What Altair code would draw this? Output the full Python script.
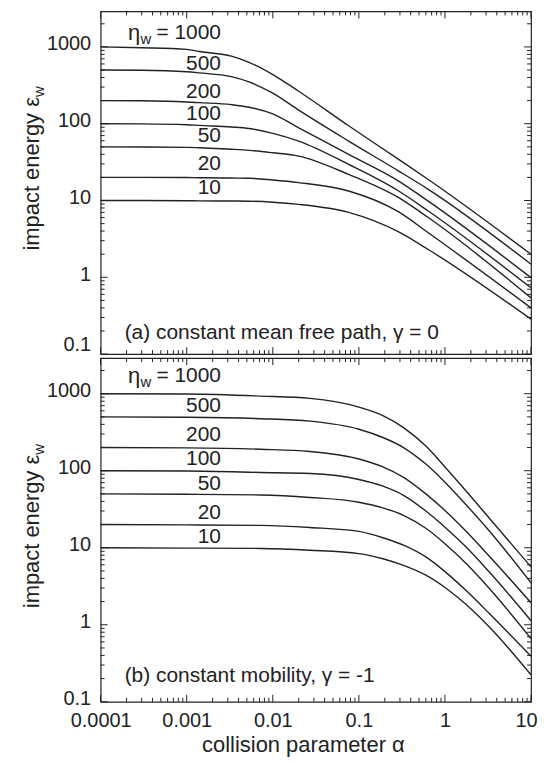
import altair as alt
import pandas as pd

# ---------------- data ----------------
eta = [1000, 500, 200, 100, 50, 20, 10]

# (a) constant mean free path, gamma = 0
x_a = [0.0001, 0.0003, 0.001, 0.0014, 0.0033, 0.0053, 0.01, 0.02, 0.076, 0.29, 0.64, 10]
a_1000 = [1000, 977, 930, 871, 759, 631, 437, 265, 94, 34.3, 18.8, 2.0]
a_500 = [500, 497, 475, 459, 410, 350, 250, 150, 59.4, 24.2, 14.0, 1.48]
a_200 = [200, 199, 192, 188, 177, 164, 134, 88.5, 39.9, 17.9, 9.8, 0.99]
a_100 = [100, 99.5, 97, 95, 90.6, 86.7, 75, 59.4, 29.6, 13.3, 7.3, 0.73]
a_50 = [50, 49.8, 49.2, 48.6, 46.5, 45, 41.8, 37.9, 21.9, 10.9, 6.0, 0.54]
a_20 = [20, 20, 19.9, 19.8, 19.6, 19.5, 18.5, 17.1, 13.3, 7.1, 3.8, 0.40]
a_10 = [10, 10, 9.95, 9.9, 9.85, 9.8, 9.5, 8.9, 7.0, 3.9, 2.3, 0.285]

# (b) constant mobility, gamma = -1
x_b = [0.0001, 0.001, 0.0072, 0.027, 0.1, 0.19, 0.33, 0.6, 1.0, 1.75, 3.3, 10]
b_1000 = [1000, 990, 931, 869, 670, 520, 363, 209, 112, 55, 24, 5.65]
b_500 = [500, 495, 474, 440, 346, 270, 200, 122, 71, 36.4, 16.4, 3.5]
b_200 = [200, 198, 190, 178, 142, 112, 82, 50, 30.5, 16.5, 7.7, 1.93]
b_100 = [100, 99, 95, 92, 77, 63, 48, 30, 18.5, 10.3, 4.8, 1.13]
b_50 = [50, 49.5, 48.5, 45, 39, 33, 26.4, 17.9, 11.3, 6.3, 2.94, 0.66]
b_20 = [20, 19.8, 19.5, 18.3, 16.3, 13.5, 10.8, 7.6, 4.9, 2.8, 1.39, 0.39]
b_10 = [10, 9.9, 9.8, 9.3, 8.4, 7.2, 5.9, 4.4, 3.05, 1.85, 0.93, 0.224]

curve_labels = ["500", "200", "100", "50", "20", "10"]
y_tick_labels = [0.1, 1, 10, 100, 1000]
x_tick_labels = [0.0001, 0.001, 0.01, 0.1, 1, 10]

# ---------------- helpers ----------------
FONT = "Liberation Sans"
INK = "#222222"
W = 432
H_A = 344
H_B = 345


def long_df(xs, series):
    rows = []
    for e, ys in zip(eta, series):
        for x, y in zip(xs, ys):
            rows.append({"x": x, "y": y, "eta": e})
    return pd.DataFrame(rows)


df_a = long_df(x_a, [a_1000, a_500, a_200, a_100, a_50, a_20, a_10])
df_b = long_df(x_b, [b_1000, b_500, b_200, b_100, b_50, b_20, b_10])

x_minor = [k * 10.0 ** d for d in range(-4, 1) for k in range(2, 10)]
y_minor = [k * 10.0 ** d for d in range(-1, 3) for k in range(2, 10)] + [2000]
xmaj = pd.DataFrame({"v": x_tick_labels})
xmin = pd.DataFrame({"v": x_minor})
ymaj = pd.DataFrame({"v": y_tick_labels})
ymin = pd.DataFrame({"v": y_minor})

xs = alt.Scale(type="log", domain=[0.0001, 10])
ys = alt.Scale(type="log", domain=[0.1, 2900])


def y_axis(top_panel):
    off = {"condition": {"test": "datum.value < 0.5", "value": -10}, "value": -3} if top_panel else -3
    return alt.Axis(values=y_tick_labels, format="~g", ticks=False, domain=False, grid=False,
                    title=None, labelPadding=10, labelOffset=off, labelBaseline="middle",
                    labelFlush=False)


def x_axis(show):
    if not show:
        return None
    xoff = {"condition": {"test": "datum.value > 5", "value": -5},
            "value": 0}
    return alt.Axis(values=x_tick_labels, format="~g", ticks=False, domain=False, grid=False,
                    title="collision parameter α", titleFontSize=22, titleFont=FONT,
                    titleFontWeight="normal", titleColor=INK, labelPadding=9,
                    labelFlush=False, labelOverlap=False, labelOffset=xoff,
                    titleX=203, titleY=50, titleBaseline="alphabetic")


def panel(df, H, top_panel, labels_y, eta_label_y, note, note_y):
    YA = y_axis(top_panel)
    XA = x_axis(not top_panel)
    X = lambda f: alt.X(f, scale=xs, axis=XA)
    Y = lambda f: alt.Y(f, scale=ys, axis=YA)

    lines = alt.Chart(df).mark_line(color=INK, strokeWidth=1.4, interpolate="monotone").encode(
        x=X("x:Q"), y=Y("y:Q"), detail="eta:N")

    layers = [lines]
    # inner ticks
    for d, ln in ((ymaj, 7), (ymin, 4)):
        layers.append(alt.Chart(d).mark_rule(color=INK, strokeWidth=1).encode(
            y=Y("v:Q"), x=alt.value(0), x2=alt.value(ln)))
        layers.append(alt.Chart(d).mark_rule(color=INK, strokeWidth=1).encode(
            y=Y("v:Q"), x=alt.value(W), x2=alt.value(W - ln)))
    for d, ln in ((xmaj, 7), (xmin, 4)):
        layers.append(alt.Chart(d).mark_rule(color=INK, strokeWidth=1).encode(
            x=X("v:Q"), y=alt.value(0), y2=alt.value(ln)))
        layers.append(alt.Chart(d).mark_rule(color=INK, strokeWidth=1).encode(
            x=X("v:Q"), y=alt.value(H), y2=alt.value(H - ln)))

    # curve labels
    lab = pd.DataFrame({"x": [0.0025] * len(curve_labels), "y": labels_y, "t": curve_labels})
    layers.append(alt.Chart(lab).mark_text(font=FONT, fontSize=21, color=INK, align="right",
                                           baseline="middle").encode(
        x=X("x:Q"), y=Y("y:Q"), text="t:N"))
    etadf = pd.DataFrame({"x": [0.0025], "y": [eta_label_y]})
    layers.append(alt.Chart(etadf).mark_text(font=FONT, fontSize=21, color=INK, align="right",
                                             baseline="middle", text="= 1000").encode(
        x=X("x:Q"), y=Y("y:Q")))
    layers.append(alt.Chart(etadf).mark_text(font=FONT, fontSize=15, color=INK, align="right",
                                             baseline="middle", text="w", dx=-70, dy=6).encode(
        x=X("x:Q"), y=Y("y:Q")))
    layers.append(alt.Chart(etadf).mark_text(font=FONT, fontSize=22, color=INK, align="right",
                                             baseline="middle", text="η", dx=-81, dy=0).encode(
        x=X("x:Q"), y=Y("y:Q")))
    # panel note
    notedf = pd.DataFrame({"x": [0.00019], "y": [note_y]})
    layers.append(alt.Chart(notedf).mark_text(font=FONT, fontSize=21, color=INK, align="left",
                                              baseline="middle", text=note).encode(
        x=X("x:Q"), y=Y("y:Q")))
    # y title with subscript
    one = pd.DataFrame({"a": [0]})
    yend = 86 if top_panel else 97
    layers.append(alt.Chart(one).mark_text(font=FONT, fontSize=22, color=INK, align="right",
                                           baseline="alphabetic", angle=270,
                                           text="impact energy ε").encode(
        x=alt.value(-62), y=alt.value(yend)))
    layers.append(alt.Chart(one).mark_text(font=FONT, fontSize=15, color=INK, align="left",
                                           baseline="alphabetic", angle=270, text="w").encode(
        x=alt.value(-57), y=alt.value(yend)))

    return alt.layer(*layers).properties(width=W, height=H)


top = panel(df_a, H_A, True, [591, 258, 132, 69, 29.6, 14.7], 1507,
            "(a) constant mean free path, γ = 0", 0.19)
bottom = panel(df_b, H_B, False, [685, 292, 142, 67, 28, 13.6], 1680,
               "(b) constant mobility, γ = -1", 0.214)

chart = alt.vconcat(top, bottom, spacing=0).configure_view(
    stroke=INK, strokeWidth=1.2
).configure_axis(
    labelFont=FONT, labelFontSize=20, labelColor=INK
).properties(
    padding={"left": 12, "top": 0, "right": 0, "bottom": 0},
    background="white"
)

chart.save("out.html", embed_options={"renderer": "svg", "actions": False})
